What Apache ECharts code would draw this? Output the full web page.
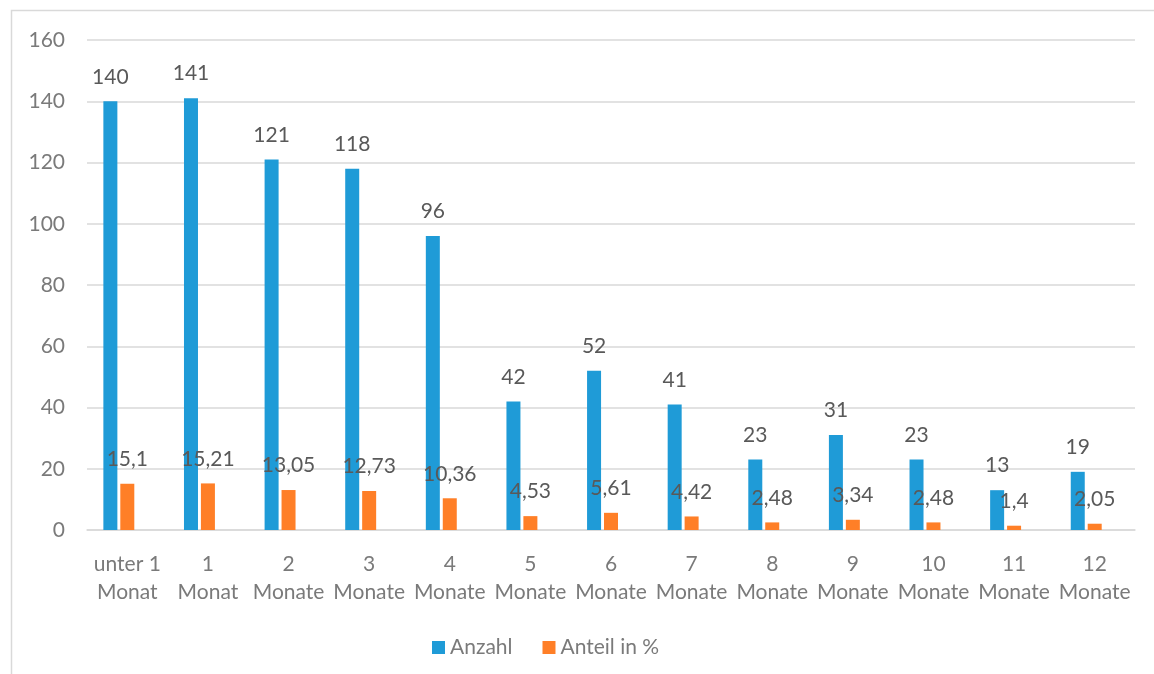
<!DOCTYPE html>
<html>
<head>
<meta charset="utf-8">
<script src="https://cdn.jsdelivr.net/npm/echarts@6/dist/echarts.min.js"></script>
<style>
  html, body { margin: 0; padding: 0; background: #ffffff; }
  #chart { width: 1154px; height: 674px; }
</style>
</head>
<body>
<div id="chart"></div>
<script>
// Dauer in Monaten (Kategorien der x-Achse)
const categories = [
  'unter 1\nMonat', '1\nMonat', '2\nMonate', '3\nMonate', '4\nMonate',
  '5\nMonate', '6\nMonate', '7\nMonate', '8\nMonate', '9\nMonate',
  '10\nMonate', '11\nMonate', '12\nMonate'
];
// Absolute Anzahl je Dauer
const anzahl = [140, 141, 121, 118, 96, 42, 52, 41, 23, 31, 23, 13, 19];
// Anteil in Prozent je Dauer
const anteil = [15.1, 15.21, 13.05, 12.73, 10.36, 4.53, 5.61, 4.42, 2.48, 3.34, 2.48, 1.4, 2.05];
// Werte der y-Achse
const yMin = 0, yMax = 160, yStep = 20;

const FONT = 'Lato, "Open Sans", sans-serif';
const labelFmt = p => String(p.value).replace('.', ',');

const chart = echarts.init(document.getElementById('chart'), null, { renderer: 'canvas' });
chart.setOption({
  backgroundColor: '#ffffff',
  animation: false,
  textStyle: { fontFamily: FONT },
  graphic: [{
    type: 'rect',
    silent: true,
    shape: { x: 11.5, y: 10.5, width: 1200, height: 720 },
    style: { fill: 'none', stroke: '#d9d9d9', lineWidth: 1.5 }
  }],
  grid: { left: 87, right: 19, top: 40, bottom: 144, containLabel: false },
  legend: {
    data: ['Anzahl', 'Anteil in %'],
    left: 427,
    top: 632,
    itemWidth: 13,
    itemHeight: 13,
    itemGap: 30,
    icon: 'rect',
    textStyle: { color: '#7a7a7a', fontSize: 21, fontFamily: FONT }
  },
  xAxis: {
    type: 'category',
    data: categories,
    axisLine: { show: true, lineStyle: { color: '#d9d9d9', width: 1.5 } },
    axisTick: { show: false },
    axisLabel: {
      color: '#7a7a7a', fontSize: 21, fontFamily: FONT,
      lineHeight: 28, margin: 20, interval: 0
    }
  },
  yAxis: {
    type: 'value',
    min: yMin, max: yMax, interval: yStep,
    axisLine: { show: false },
    axisTick: { show: false },
    splitLine: { lineStyle: { color: '#d9d9d9', width: 1.5 } },
    axisLabel: { color: '#7a7a7a', fontSize: 21, fontFamily: FONT, margin: 22 }
  },
  series: [
    {
      name: 'Anzahl',
      type: 'bar',
      data: anzahl,
      barWidth: 14,
      barGap: '21%',
      itemStyle: { color: '#1f9bd7' },
      label: {
        show: true, position: 'top', distance: 14,
        color: '#595959', fontSize: 21, fontFamily: FONT,
        formatter: labelFmt
      }
    },
    {
      name: 'Anteil in %',
      type: 'bar',
      data: anteil,
      barWidth: 14,
      barGap: '21%',
      itemStyle: { color: '#ff7f27' },
      label: {
        show: true, position: 'top', distance: 14,
        color: '#595959', fontSize: 21, fontFamily: FONT,
        formatter: labelFmt
      }
    },
    {
      // leere dritte Datenreihe, belegt nur den Platz in jeder Gruppe
      id: 'platzhalter',
      type: 'bar',
      data: [],
      barWidth: 14,
      barGap: '21%',
      silent: true
    }
  ]
});
</script>
</body>
</html>
